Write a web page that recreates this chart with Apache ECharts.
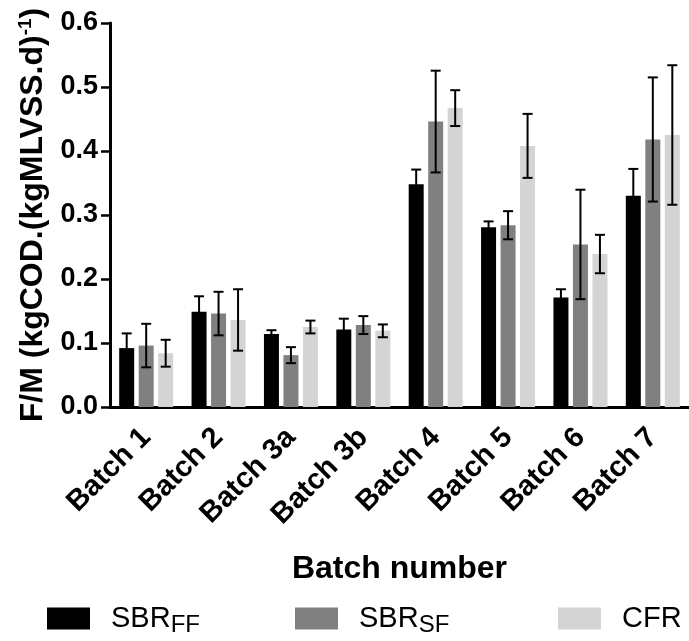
<!DOCTYPE html>
<html>
<head>
<meta charset="utf-8">
<script src="https://cdn.jsdelivr.net/npm/echarts@6/dist/echarts.min.js"></script>
<style>html,body{margin:0;padding:0;background:#fff}#c{width:689px;height:641px}</style>
</head>
<body>
<div id="c"></div>
<script>
const categories = ['Batch 1','Batch 2','Batch 3a','Batch 3b','Batch 4','Batch 5','Batch 6','Batch 7'];
const seriesNames = ['SBR_FF','SBR_SF','CFR'];
const sbrFF    = [0.092, 0.149, 0.114, 0.121, 0.348, 0.281, 0.171, 0.330];
const sbrFFErr = [0.023, 0.024, 0.006, 0.017, 0.023, 0.009, 0.013, 0.042];
const sbrSF    = [0.096, 0.146, 0.081, 0.128, 0.446, 0.284, 0.254, 0.418];
const sbrSFErr = [0.034, 0.034, 0.0125, 0.014, 0.0795, 0.022, 0.0855, 0.097];
const cfr      = [0.084, 0.136, 0.125, 0.119, 0.467, 0.408, 0.239, 0.425];
const cfrErr   = [0.021, 0.048, 0.010, 0.010, 0.028, 0.050, 0.030, 0.109];
const yTicks = [0, 0.1, 0.2, 0.3, 0.4, 0.5, 0.6];

const colors = ['#000000', '#808080', '#d4d4d4'];
const values = [sbrFF, sbrSF, cfr];
const errs = [sbrFFErr, sbrSFErr, cfrErr];
const BAR_W = 15, GAP = 4.5;
const FONT = '"Liberation Sans", Arial, sans-serif';

function errSeries(idx) {
  const offset = (idx - 1) * (BAR_W + GAP);
  return {
    type: 'custom',
    name: seriesNames[idx] + '_err',
    z: 10,
    data: values[idx].map((v, i) => [i, v, errs[idx][i]]),
    renderItem: function (params, api) {
      const x = api.coord([api.value(0), 0])[0] + offset;
      const hi = api.coord([api.value(0), api.value(1) + api.value(2)])[1];
      const lo = api.coord([api.value(0), api.value(1) - api.value(2)])[1];
      const cw = 5;
      const st = { stroke: '#000', lineWidth: 2 };
      return { type: 'group', children: [
        { type: 'line', shape: { x1: x, y1: hi, x2: x, y2: lo }, style: st },
        { type: 'line', shape: { x1: x - cw, y1: hi, x2: x + cw, y2: hi }, style: st },
        { type: 'line', shape: { x1: x - cw, y1: lo, x2: x + cw, y2: lo }, style: st }
      ]};
    }
  };
}

const legendRich = {
  a: { fontFamily: FONT, fontSize: 29, color: '#000', padding: [0, 0, 0, 16] },
  s: { fontFamily: FONT, fontSize: 24, color: '#000', padding: [14, 0, 0, 0] }
};
function legendFor(name, left) {
  return {
    data: [name], left: left, top: 604, padding: 0, itemWidth: 43, itemHeight: 22,
    icon: 'rect', selectedMode: false,
    formatter: function (n) {
      if (n === 'SBR_FF') return '{a|SBR}{s|FF}';
      if (n === 'SBR_SF') return '{a|SBR}{s|SF}';
      return '{a|' + n + '}';
    },
    textStyle: { rich: legendRich }
  };
}

const chart = echarts.init(document.getElementById('c'), null, { renderer: 'canvas' });
chart.setOption({
  animation: false,
  backgroundColor: '#fff',
  grid: { left: 110, right: 0, top: 23, bottom: 234, containLabel: false },
  legend: [legendFor('SBR_FF', 47), legendFor('SBR_SF', 295), legendFor('CFR', 558)],
  xAxis: {
    type: 'category', data: categories,
    name: 'Batch number', nameLocation: 'middle', nameGap: 146,
    nameTextStyle: { fontFamily: FONT, fontWeight: 'bold', fontSize: 32, color: '#000' },
    axisLine: { lineStyle: { color: '#000', width: 3 } },
    axisTick: { alignWithLabel: true, length: 9, lineStyle: { color: '#000', width: 2.5 } },
    axisLabel: { rotate: 45, interval: 0, margin: 26, fontFamily: FONT, fontWeight: 'bold', fontSize: 29, color: '#000' }
  },
  yAxis: {
    type: 'value', min: 0, max: 0.6, interval: 0.1,
    name: '{m|F/M (kgCOD.(kgMLVSS.d)}{s|-1}{m|)}', nameLocation: 'middle', nameGap: 56,
    nameTextStyle: { padding: [0, 0, 0, 0], rich: {
      m: { fontFamily: FONT, fontWeight: 'bold', fontSize: 32, color: '#000' },
      s: { fontFamily: FONT, fontWeight: 'bold', fontSize: 19, color: '#000', padding: [0, 0, 15, 0] }
    } },
    axisLine: { show: true, lineStyle: { color: '#000', width: 3 } },
    axisTick: { show: true, length: 9, lineStyle: { color: '#000', width: 2.5 } },
    splitLine: { show: false },
    axisLabel: { margin: 12, fontFamily: FONT, fontWeight: 'bold', fontSize: 27, color: '#000',
      formatter: v => yTicks.includes(Math.round(v * 10) / 10) ? v.toFixed(1) : '' }
  },
  series: [0, 1, 2].map(i => ({
    type: 'bar', name: seriesNames[i], data: values[i],
    barWidth: BAR_W, barGap: (GAP / BAR_W * 100) + '%',
    itemStyle: { color: colors[i] }
  })).concat([0, 1, 2].map(errSeries))
});
</script>
</body>
</html>
